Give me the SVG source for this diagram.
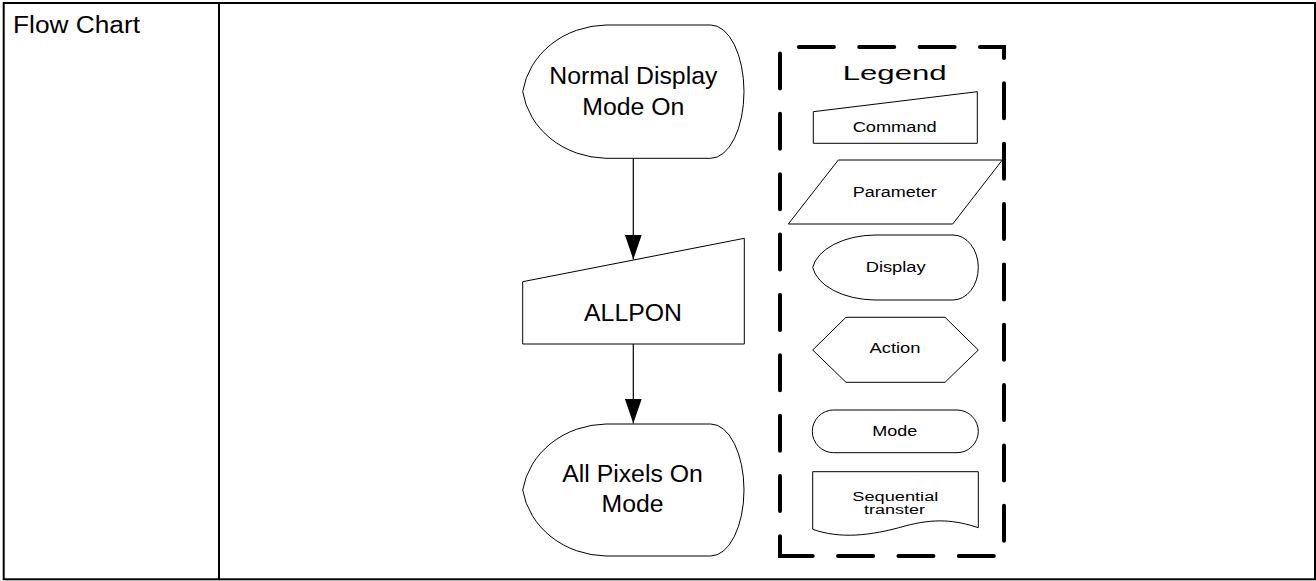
<svg xmlns="http://www.w3.org/2000/svg" width="1316" height="581" viewBox="0 0 1316 581">
<style>
.shape{fill:#fff;stroke:#000;stroke-width:1}
.t{font-family:"Liberation Sans",Arial,sans-serif;fill:#000;text-anchor:middle}
.big{font-size:24.8px}
.small{font-size:14px}
.conn{stroke:#000;stroke-width:1.2;fill:none}
</style>
<defs>
<marker id="arr" viewBox="0 0 24.5 16.7" refX="24.5" refY="8.35" markerWidth="24.5" markerHeight="16.7" markerUnits="userSpaceOnUse" orient="auto">
<path d="M0,0 L24.5,8.35 L0,16.7 Z" fill="#000"/>
</marker>
</defs>
<rect id="table" x="3.7" y="3" width="1311.3" height="576.3" fill="#fff" stroke="#000" stroke-width="2"/>
<line x1="219" y1="3" x2="219" y2="579.3" stroke="#000" stroke-width="2"/>
<text x="13" y="33.3" font-family="Liberation Sans,Arial,sans-serif" font-size="23" textLength="127" lengthAdjust="spacingAndGlyphs">Flow Chart</text>

<g id="connectors">
<line class="conn" x1="633.3" y1="158.3" x2="633.3" y2="259.5" marker-end="url(#arr)"/>
<line class="conn" x1="633.3" y1="344" x2="633.3" y2="423.5" marker-end="url(#arr)"/>
</g>

<g id="node-normal-display">
<path class="shape" d="M606,25 H710.7 A33.3,66.65 0 0 1 710.7,158.3 H606 A86,78 0 0 1 522.7,91.65 A86,78 0 0 1 606,25 Z"/>
<text class="t big" x="633.3" y="84.3">Normal Display</text>
<text class="t big" x="633.3" y="115">Mode On</text>
</g>

<g id="node-allpon">
<path class="shape" d="M522.7,281.7 L744.3,238.3 L744.3,344 L522.7,344 Z"/>
<text class="t big" x="633" y="320.7">ALLPON</text>
</g>

<g id="node-all-pixels">
<path class="shape" d="M606,424 H710.7 A33.3,66 0 0 1 710.7,556 H606 A86,78 0 0 1 522.7,490 A86,78 0 0 1 606,424 Z"/>
<text class="t big" x="632.5" y="482">All Pixels On</text>
<text class="t big" x="632.5" y="512.3">Mode</text>
</g>

<g id="legend">
<path d="M780,556 V47 H1004 V556 Z" fill="none" stroke="#000" stroke-width="4" stroke-dasharray="35 25.36" stroke-dashoffset="15.36" stroke-linecap="round"/>
<text class="t" x="894.7" y="80" font-size="20" textLength="104" lengthAdjust="spacingAndGlyphs">Legend</text>
</g>

<g id="legend-command">
<path class="shape" d="M813.3,111.7 L977.3,91.7 L977.3,143.3 L813.3,143.3 Z"/>
<text class="t small" x="894.7" y="131.7" textLength="84" lengthAdjust="spacingAndGlyphs">Command</text>
</g>

<g id="legend-parameter">
<path class="shape" d="M838.3,160 L1002.3,160 L952.7,224 L788.3,224 Z"/>
<text class="t small" x="894.7" y="196.7" textLength="84" lengthAdjust="spacingAndGlyphs">Parameter</text>
</g>

<g id="legend-display">
<path class="shape" d="M875,235 H953 A25.3,32.5 0 0 1 953,300 H875 A64,38 0 0 1 812.7,267.5 A64,38 0 0 1 875,235 Z"/>
<text class="t small" x="895.7" y="271.7" textLength="60" lengthAdjust="spacingAndGlyphs">Display</text>
</g>

<g id="legend-action">
<path class="shape" d="M812.7,350 L846,317.3 L945,317.3 L978.3,350 L945,382.3 L846,382.3 Z"/>
<text class="t small" x="895" y="352.7" textLength="51" lengthAdjust="spacingAndGlyphs">Action</text>
</g>

<g id="legend-mode">
<rect class="shape" x="812.3" y="410" width="166" height="42.7" rx="21.35" ry="21.35"/>
<text class="t small" x="894.8" y="435.7" textLength="45" lengthAdjust="spacingAndGlyphs">Mode</text>
</g>

<g id="legend-sequential">
<path class="shape" d="M812.7,471.7 H978.3 V527.7 C955,520 935,518 905,526 C870,536 840,539 812.7,529.3 Z"/>
<text class="t" x="895.3" y="500.5" font-size="12.5" textLength="86" lengthAdjust="spacingAndGlyphs">Sequential</text>
<text class="t" x="894.5" y="514" font-size="12.5" textLength="61" lengthAdjust="spacingAndGlyphs">transter</text>
</g>
</svg>
